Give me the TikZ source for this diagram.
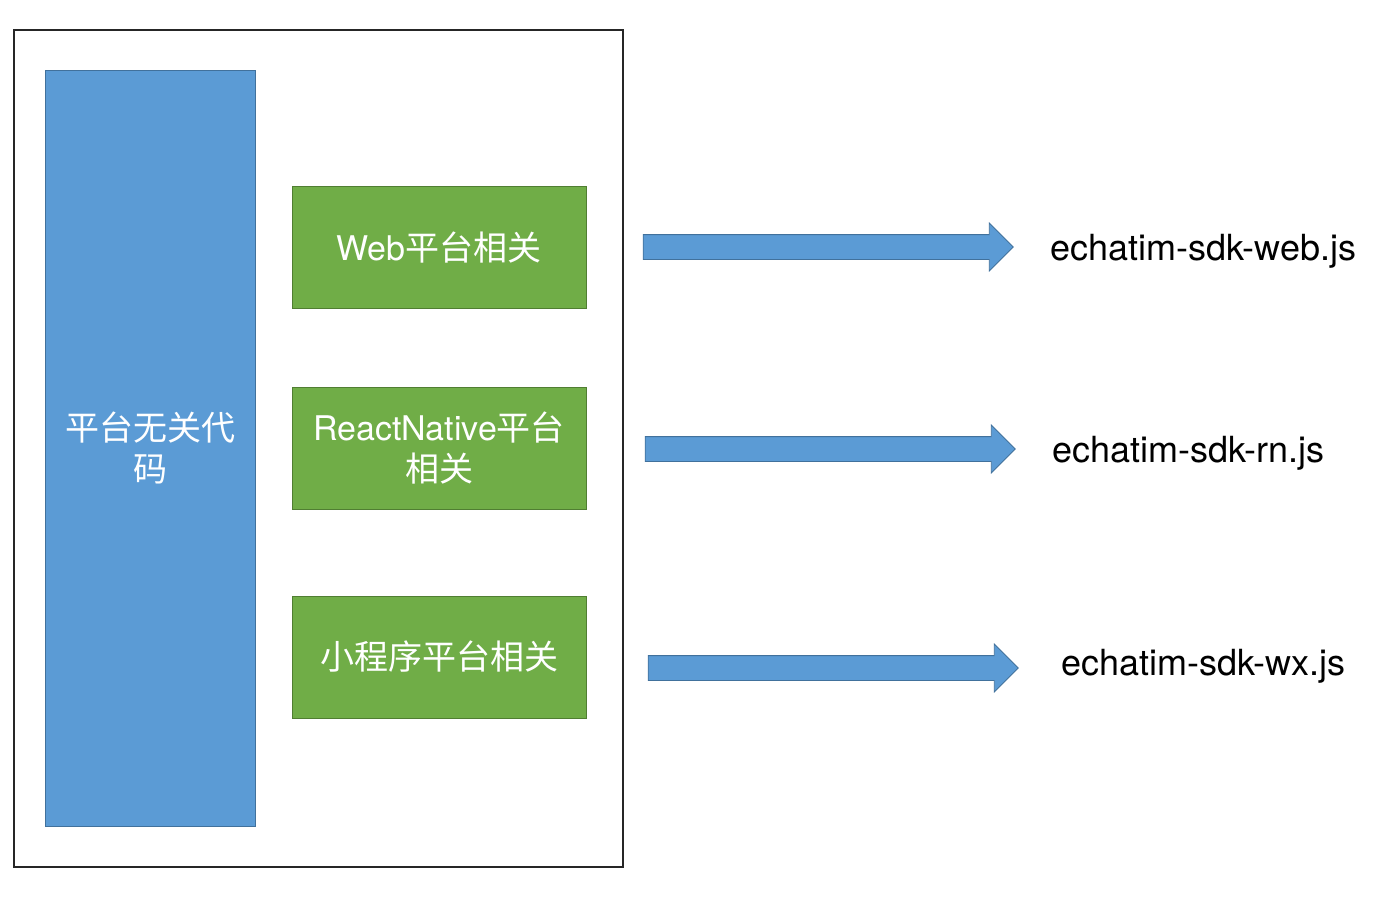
\documentclass[tikz,border=0pt]{standalone}
\usepackage{fontspec}
\setmainfont{TeX Gyre Heros}
\newfontfamily\cjk{Noto Sans CJK SC}
\usepackage{xcolor}
\usepackage{tikz}
\usetikzlibrary{positioning,shapes.arrows}
\definecolor{cb}{HTML}{5B9BD5}
\definecolor{cbd}{HTML}{41719C}
\definecolor{cg}{HTML}{70AD47}
\definecolor{cgd}{HTML}{507E32}

\begin{document}
\begin{tikzpicture}[
  x=0.5pt, y=-0.5pt,
  every node/.style = {font=\fontsize{17}{20.5}\selectfont},
  %% box styles
  frame/.style = {rectangle, draw=black!85, line width=0.9pt,
                  minimum width=304.5pt, minimum height=418.5pt, inner sep=0pt},
  core/.style  = {rectangle, draw=cbd, fill=cb, text=white, align=center,
                  minimum width=105pt, minimum height=378pt, inner sep=0pt},
  plat/.style  = {rectangle, draw=cgd, fill=cg, text=white, align=center,
                  minimum width=147pt, minimum height=61pt, inner sep=0pt},
  %% arrows and output names
  barrow/.style = {shape=single arrow, draw=cbd, fill=cb,
                   inner xsep=0pt, inner ysep=6pt,
                   minimum height=185pt, minimum width=23.5pt,
                   single arrow head extend=5.75pt, single arrow tip angle=90},
  outname/.style = {anchor=west, inner sep=0pt, text=black, yshift=-2pt,
                    font=\fontsize{18}{21}\selectfont}
]
\useasboundingbox (0,0) rectangle (1400,907);

%% ---- Left frame ----
\node[frame] (FRM) at (318.5,448.5) {};
\node[core]  (COR) at (150,448) {{\cjk 平台无关代}\\{\cjk 码}};

%% ---- Platform boxes ----
\node[plat] (WEB) at (439,247) {Web{\cjk 平台相关}};
\node[plat] (RN)  at (439,448) {ReactNative{\cjk 平台}\\{\cjk 相关}};
\node[plat] (WX)  at (439,657) {{\cjk 小程序平台相关}};

%% ---- Arrows ----
\node[barrow] (AWEB) at (822,247) {};
\node[barrow] (ARN)  at (824,449) {};
\node[barrow] (AWX)  at (827,668) {};

%% ---- Output files ----
\node[outname, right=18pt of AWEB] (FWEB) {echatim-sdk-web.js};
\node[outname, right=18pt of ARN]  (FRN)  {echatim-sdk-rn.js};
\node[outname, right=21pt of AWX, yshift=3pt] (FWX) {echatim-sdk-wx.js};

\end{tikzpicture}
\end{document}
